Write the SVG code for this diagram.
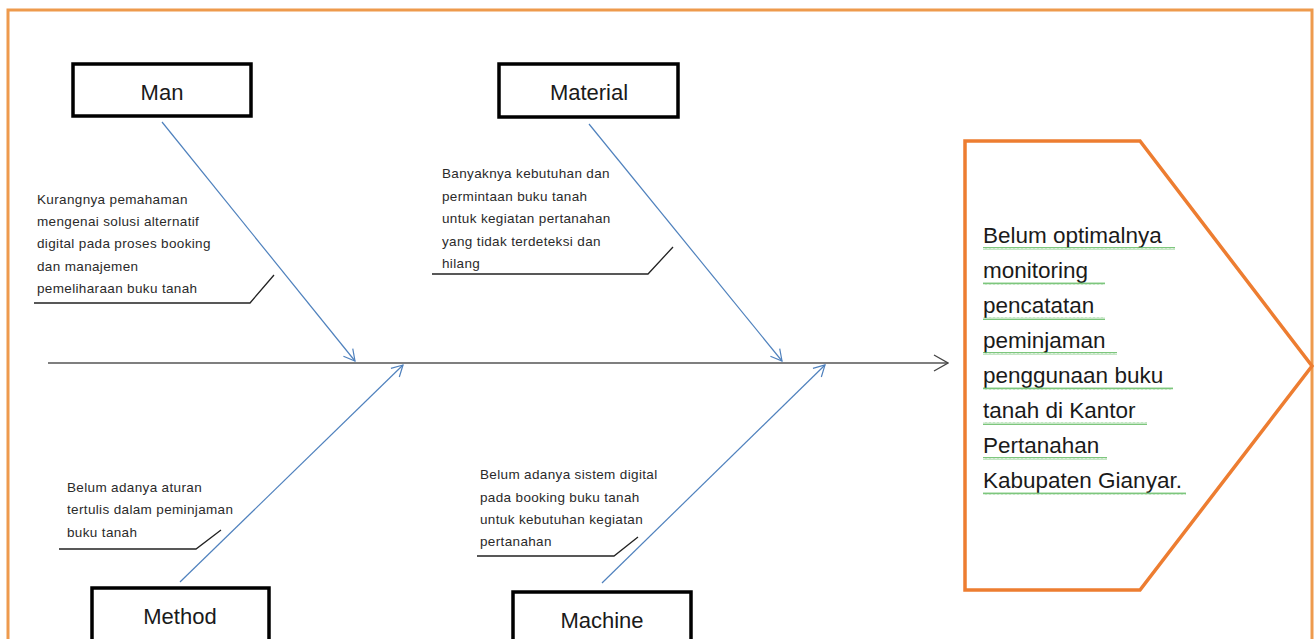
<svg xmlns="http://www.w3.org/2000/svg" width="1315" height="639" viewBox="0 0 1315 639">
<style>
.box{fill:#fff;stroke:#000;stroke-width:3.5}
.cat{font-family:"Liberation Sans",Arial,sans-serif;font-size:22px;fill:#1a1a1a;text-anchor:middle}
.lbl{font-family:"Liberation Sans",Arial,sans-serif;font-size:13.5px;fill:#2a2a2a;letter-spacing:0.35px}
.bone{stroke:#4f81bd;stroke-width:1.2;fill:none}
.call{stroke:#222;stroke-width:1.3;fill:none}
.eff{font-family:"Liberation Sans",Arial,sans-serif;font-size:22.5px;fill:#1a1a1a}
.sq{fill:url(#squig)}
</style>
<defs>
<marker id="ab" markerWidth="14" markerHeight="14" refX="12" refY="7" orient="auto" markerUnits="userSpaceOnUse">
<path d="M1,1 L12,7 L1,13" fill="none" stroke="#4f81bd" stroke-width="1.2"/>
</marker>
<marker id="as" markerWidth="16" markerHeight="20" refX="15" refY="10" orient="auto" markerUnits="userSpaceOnUse">
<path d="M1,2 L15,10 L1,18" fill="none" stroke="#444" stroke-width="1.3"/>
</marker>
<pattern id="squig" width="4" height="3" patternUnits="userSpaceOnUse">
<path d="M0,2.5 L1,0.5 L2,2.5 L3,0.5 L4,2.5" fill="none" stroke="#5cb85c" stroke-width="0.8"/>
</pattern>
</defs>
<rect width="1315" height="639" fill="#fff"/>
<rect x="8" y="10" width="1304" height="660" fill="none" stroke="#ee9a4d" stroke-width="3"/>

<g id="connectors">
<line x1="48" y1="363" x2="948" y2="363" stroke="#555" stroke-width="1.5" marker-end="url(#as)"/>
<line class="bone" x1="162" y1="122" x2="355" y2="361" marker-end="url(#ab)"/>
<line class="bone" x1="589" y1="124" x2="782" y2="361" marker-end="url(#ab)"/>
<line class="bone" x1="180" y1="582" x2="403" y2="365" marker-end="url(#ab)"/>
<line class="bone" x1="602" y1="583" x2="825" y2="365" marker-end="url(#ab)"/>
<polyline class="call" points="34,303 250,303 274,275"/>
<polyline class="call" points="432,274 648,274 673,247"/>
<polyline class="call" points="59,549 196,549 221,530"/>
<polyline class="call" points="477,556 614,556 638,537"/>
</g>

<g id="man">
<rect class="box" x="73" y="64" width="178" height="52"/>
<text class="cat" x="162" y="100">Man</text>
</g>
<g id="material">
<rect class="box" x="499" y="64" width="179" height="53"/>
<text class="cat" x="589" y="100">Material</text>
</g>
<g id="method">
<rect class="box" x="92" y="588" width="177" height="70"/>
<text class="cat" x="180" y="624">Method</text>
</g>
<g id="machine">
<rect class="box" x="513" y="592" width="178" height="70"/>
<text class="cat" x="602" y="628">Machine</text>
</g>

<g id="man-cause">
<text class="lbl" x="37" y="204">Kurangnya pemahaman</text>
<text class="lbl" x="37" y="226">mengenai solusi alternatif</text>
<text class="lbl" x="37" y="248">digital pada proses booking</text>
<text class="lbl" x="37" y="271">dan manajemen</text>
<text class="lbl" x="37" y="293">pemeliharaan buku tanah</text>
</g>
<g id="material-cause">
<text class="lbl" x="442" y="178">Banyaknya kebutuhan  dan</text>
<text class="lbl" x="442" y="201">permintaan buku  tanah</text>
<text class="lbl" x="442" y="223">untuk  kegiatan pertanahan</text>
<text class="lbl" x="442" y="246">yang tidak terdeteksi dan</text>
<text class="lbl" x="442" y="268">hilang</text>
</g>
<g id="method-cause">
<text class="lbl" x="67" y="492">Belum adanya aturan</text>
<text class="lbl" x="67" y="514">tertulis dalam peminjaman</text>
<text class="lbl" x="67" y="537">buku tanah</text>
</g>
<g id="machine-cause">
<text class="lbl" x="480" y="479">Belum adanya sistem digital</text>
<text class="lbl" x="480" y="502">pada booking  buku tanah</text>
<text class="lbl" x="480" y="524">untuk  kebutuhan  kegiatan</text>
<text class="lbl" x="480" y="546">pertanahan</text>
</g>

<g id="effect">
<polygon points="965,141 1140,141 1312,366 1140,590 965,590" fill="#fff" stroke="#ed7d31" stroke-width="3.5" stroke-linejoin="miter"/>
<text class="eff" x="983" y="243">Belum optimalnya</text>
<text class="eff" x="983" y="278">monitoring</text>
<text class="eff" x="983" y="313">pencatatan</text>
<text class="eff" x="983" y="348">peminjaman</text>
<text class="eff" x="983" y="383">penggunaan buku</text>
<text class="eff" x="983" y="418">tanah di Kantor</text>
<text class="eff" x="983" y="453">Pertanahan</text>
<text class="eff" x="983" y="488">Kabupaten Gianyar.</text>
<rect class="sq" x="983" y="247" width="192" height="3"/>
<rect class="sq" x="983" y="282" width="122" height="3"/>
<rect class="sq" x="983" y="317" width="122" height="3"/>
<rect class="sq" x="983" y="352" width="134" height="3"/>
<rect class="sq" x="983" y="387" width="190" height="3"/>
<rect class="sq" x="983" y="422" width="164" height="3"/>
<rect class="sq" x="983" y="457" width="124" height="3"/>
<rect class="sq" x="983" y="492" width="203" height="3"/>
</g>
</svg>
